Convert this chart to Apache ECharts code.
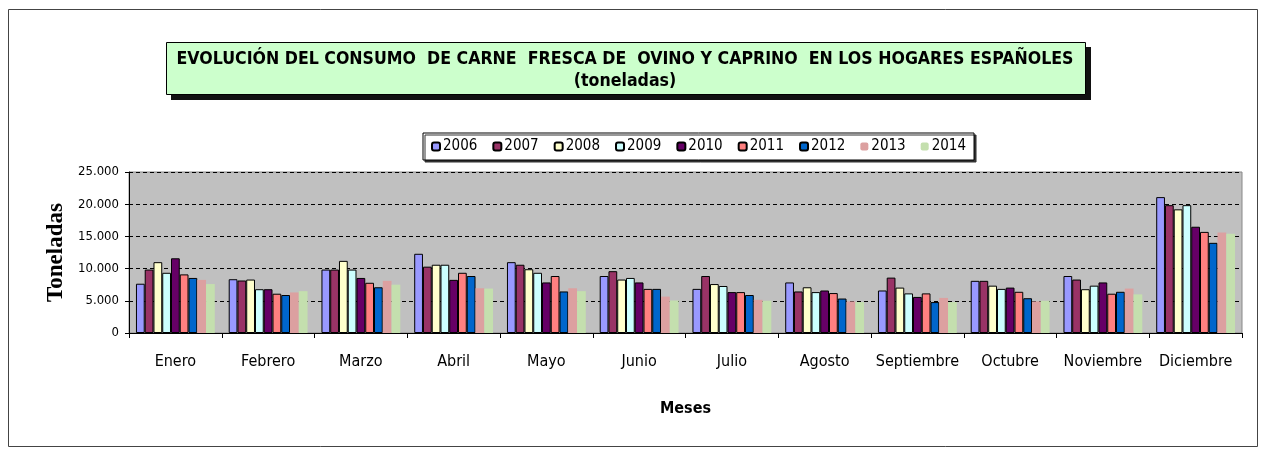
<!DOCTYPE html>
<html>
<head>
<meta charset="utf-8">
<title>Consumo carne ovino y caprino</title>
<script src="https://cdn.jsdelivr.net/npm/echarts@6/dist/echarts.min.js"></script>
<style>
    html, body { margin: 0; padding: 0; background: #fff; }
    #chart { width: 1269px; height: 457px; }
</style>
</head>
<body>
<div id="chart"></div>
<script>
    // datos (toneladas)
    const meses = ['Enero', 'Febrero', 'Marzo', 'Abril', 'Mayo', 'Junio', 'Julio', 'Agosto', 'Septiembre', 'Octubre', 'Noviembre', 'Diciembre'];
    const anios = ['2006', '2007', '2008', '2009', '2010', '2011', '2012', '2013', '2014'];

    const d2006 = [7650, 8350, 9850, 12300, 11000, 8850, 6850, 7850, 6600, 8100, 8850, 21100];
    const d2007 = [9850, 8150, 9850, 10300, 10600, 9600, 8850, 6450, 8600, 8100, 8300, 19850];
    const d2008 = [11000, 8300, 11200, 10600, 9900, 8300, 7600, 7100, 7050, 7350, 6800, 19200];
    const d2009 = [9350, 6800, 9850, 10600, 9350, 8550, 7300, 6350, 6150, 6850, 7350, 19850];
    const d2010 = [11600, 6800, 8550, 8250, 7850, 7850, 6350, 6600, 5600, 7050, 7850, 16500];
    const d2011 = [9100, 6100, 7800, 9350, 8850, 6850, 6350, 6200, 6150, 6400, 6100, 15700];
    const d2012 = [8550, 5900, 7100, 8850, 6450, 6850, 5900, 5350, 4800, 5400, 6400, 14000];
    const d2013 = [8250, 6300, 8100, 6950, 6950, 5650, 5150, 4900, 5450, 4900, 6900, 15600];
    const d2014 = [7600, 6500, 7500, 6900, 6500, 5050, 5000, 4800, 4800, 5000, 6000, 15400];

    const valores = [d2006, d2007, d2008, d2009, d2010, d2011, d2012, d2013, d2014];
    const colores = ['#9999ff', '#993366', '#ffffcc', '#ccffff', '#660066', '#ff8080', '#0066cc', '#dca0a0', '#c4dfae'];

    const fuente = '"Liberation Sans Narrow", "DejaVu Sans Condensed", Arial, sans-serif';

    // miles con punto
    function miles(v) {
        return String(v).replace(/\B(?=(\d{3})+(?!\d))/g, '.');
    }

    const series = anios.map((a, i) => ({
        name: a,
        type: 'bar',
        data: valores[i],
        barGap: '0%',
        barCategoryGap: '15%',
        itemStyle: {
            color: colores[i],
            borderColor: i < 7 ? '#000' : 'transparent',
            borderWidth: i < 7 ? 1 : 0
        }
    }));

    const config = {
        animation: false,
        textStyle: { fontFamily: fuente },
        title: {
            text: 'EVOLUCIÓN DEL CONSUMO  DE CARNE  FRESCA DE  OVINO Y CAPRINO  EN LOS HOGARES ESPAÑOLES\n(toneladas)',
            left: 620,
            top: 43,
            textAlign: 'center',
            textStyle: {
                fontFamily: fuente,
                fontWeight: 'bold',
                fontSize: 17.6,
                lineHeight: 22,
                color: '#000'
            }
        },
        graphic: [
            // marco exterior
            { type: 'rect', shape: { x: 8.5, y: 9.5, width: 1249, height: 437 }, style: { fill: 'none', stroke: '#444', lineWidth: 1 }, z: -10 },
            // sombra y caja del titulo
            { type: 'rect', shape: { x: 171, y: 47, width: 920, height: 53 }, style: { fill: '#111' }, z: -5 },
            { type: 'rect', shape: { x: 166.5, y: 42.5, width: 919, height: 52 }, style: { fill: '#ccffcc', stroke: '#000', lineWidth: 1 }, z: -4 }
        ],
        legend: {
            data: anios,
            left: 423,
            top: 133,
            padding: [6, 8, 6, 8],
            itemWidth: 8,
            itemHeight: 8,
            itemGap: 15,
            borderColor: '#000',
            borderWidth: 1,
            backgroundColor: '#fff',
            shadowColor: '#333',
            shadowOffsetX: 2,
            shadowOffsetY: 2,
            textStyle: { fontFamily: fuente, fontSize: 15, color: '#000', padding: [0, 0, 0, -2] }
        },
        grid: {
            left: 129,
            right: 27,
            top: 172,
            bottom: 124,
            show: true,
            backgroundColor: '#c0c0c0',
            borderColor: '#888',
            borderWidth: 1
        },
        xAxis: {
            type: 'category',
            data: meses,
            name: 'Meses',
            nameLocation: 'middle',
            nameGap: 68,
            nameTextStyle: { fontFamily: fuente, fontWeight: 'bold', fontSize: 16, color: '#000' },
            axisLine: { lineStyle: { color: '#000', width: 1 } },
            axisTick: { show: true, length: 5, lineStyle: { color: '#000' } },
            axisLabel: { fontFamily: fuente, fontSize: 16, color: '#000', margin: 21, interval: 0 }
        },
        yAxis: {
            type: 'value',
            min: 0,
            max: 25000,
            interval: 5000,
            name: 'Toneladas',
            nameLocation: 'middle',
            nameGap: 59,
            nameTextStyle: { fontFamily: '"Liberation Serif", "DejaVu Serif", serif', fontWeight: 'bold', fontSize: 23, color: '#000' },
            axisLine: { show: true, lineStyle: { color: '#000', width: 1 } },
            axisTick: { show: true, length: 4, lineStyle: { color: '#000' } },
            axisLabel: { fontFamily: fuente, fontSize: 13, color: '#000', margin: 10, formatter: miles },
            splitLine: { show: true, lineStyle: { color: '#000', type: [4, 3], width: 1 } }
        },
        series: series
    };

    echarts.init(document.getElementById('chart')).setOption(config);
</script>
</body>
</html>
